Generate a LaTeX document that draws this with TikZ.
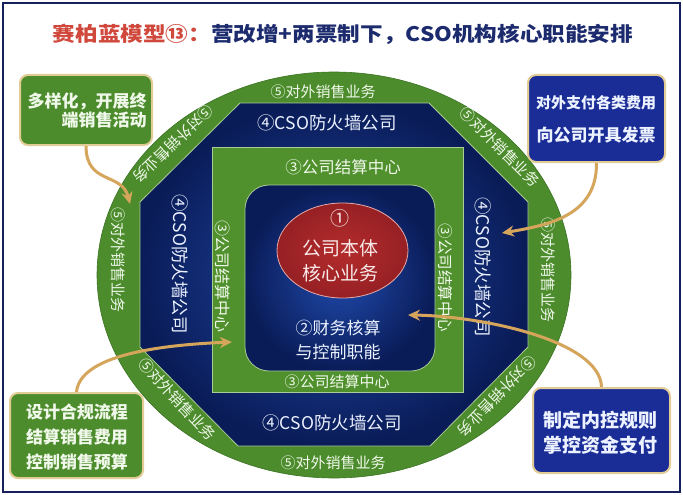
\documentclass[tikz,border=0pt]{standalone}
\usepackage{fontspec}
\setmainfont{Noto Sans CJK SC}
\usetikzlibrary{arrows.meta}
\definecolor{ringgreen}{RGB}{76,140,44}
\definecolor{sqgreen}{RGB}{80,145,46}
\definecolor{ringedge}{RGB}{60,115,36}
\definecolor{paleedge}{RGB}{170,205,150}
\definecolor{navyout}{RGB}{10,28,88}
\definecolor{navyin}{RGB}{32,74,172}
\definecolor{coreout}{RGB}{150,32,36}
\definecolor{corein}{RGB}{180,44,44}
\definecolor{coreedge}{RGB}{230,170,170}
\definecolor{tanline}{RGB}{214,165,92}
\definecolor{titlered}{RGB}{208,72,60}
\definecolor{titleblue}{RGB}{28,42,110}
\definecolor{boxgreen}{RGB}{76,140,44}
\definecolor{boxblue}{RGB}{26,44,150}
\definecolor{boxedge}{RGB}{226,204,150}
\definecolor{framecol}{RGB}{22,32,92}
\definecolor{greentext}{RGB}{240,248,234}
\definecolor{bluetext}{RGB}{236,242,255}
\definecolor{coretext}{RGB}{248,232,232}
\begin{document}
\begin{tikzpicture}[x=1pt,y=-1pt,
  ringtxt/.style={font=\fontsize{15}{15}\selectfont, text=greentext, inner sep=0pt},
  fwtxt/.style={font=\fontsize{17.5}{18}\selectfont, text=bluetext, inner sep=0pt},
  sqtxt/.style={font=\fontsize{16}{16}\selectfont, text=greentext, inner sep=0pt},
  coretxt/.style={font=\fontsize{19}{19}\selectfont, text=coretext, inner sep=0pt},
  calltxt/.style={inner sep=0pt, align=center, font=\bfseries},
  callbox/.style={rounded corners=8pt, draw=boxedge, line width=2pt, inner sep=0pt},
  linkarrow/.style={draw=tanline, line width=3pt, -{Stealth[length=12pt,width=11pt]}},
]
\useasboundingbox (0,0) rectangle (683,495);
\fill[white] (0,0) rectangle (683,495);
\draw[framecol, line width=2.5pt] (3,3) rectangle (680,492);

% title
\node[font=\fontsize{20}{22}\selectfont\bfseries, xscale=1.13, inner sep=0pt] (title) at (343,34)
  {\textcolor{titlered}{赛柏蓝模型⑬：}\textcolor{titleblue}{营改增+两票制下，CSO机构核心职能安排}};

% outer green ring
\draw[fill=ringgreen, draw=ringedge, line width=0.6pt] (334,275) ellipse [x radius=237pt, y radius=203pt];
% octagon
\shade[inner color=navyin, outer color=navyout]
  (240,103) -- (429,103) -- (528,202) -- (528,347) -- (430,446) -- (238,446) -- (140,347) -- (140,202) -- cycle;
\draw[paleedge, line width=0.8pt]
  (240,103) -- (429,103) -- (528,202) -- (528,347) -- (430,446) -- (238,446) -- (140,347) -- (140,202) -- cycle;
% green square
\draw[fill=sqgreen, draw=paleedge, line width=0.8pt] (212,147) rectangle (463,392);
% inner rounded square
\shade[rounded corners=24pt, inner color=navyin, outer color=navyout] (245,185) rectangle (435,371);
\draw[rounded corners=24pt, paleedge, line width=0.8pt] (245,185) rectangle (435,371);
% core ellipse
\shade[inner color=corein, outer color=coreout] (342.5,250.5) ellipse [x radius=65.5pt, y radius=47.5pt];
\draw[coreedge, line width=0.8pt] (342.5,250.5) ellipse [x radius=65.5pt, y radius=47.5pt];

% core texts
\node[coretxt] (c1) at (340,218) {①};
\node[coretxt] (c2) at (340,248) {公司本体};
\node[coretxt] (c3) at (340,273) {核心业务};
\node[font=\fontsize{17}{17}\selectfont, text=bluetext, inner sep=0pt] (f1) at (338,328) {②财务核算};
\node[font=\fontsize{17}{17}\selectfont, text=bluetext, inner sep=0pt] (f2) at (338,352) {与控制职能};

% settlement centre texts
\node[sqtxt, font=\fontsize{16.5}{17}\selectfont] (s1) at (343,167) {③公司结算中心};
\node[sqtxt, font=\fontsize{15}{15}\selectfont] (s2) at (337,382) {③公司结算中心};
\node[sqtxt, rotate=-90] (s3) at (223,276) {③公司结算中心};
\node[sqtxt, font=\fontsize{15.5}{16}\selectfont, rotate=-90] (s4) at (445,278) {③公司结算中心};

% firewall texts
\node[fwtxt] (w1) at (327,123) {④CSO防火墙公司};
\node[fwtxt] (w2) at (332,423) {④CSO防火墙公司};
\node[fwtxt, rotate=-90] (w3) at (180,264) {④CSO防火墙公司};
\node[fwtxt, rotate=-90] (w4) at (483,267) {④CSO防火墙公司};

% outer ring texts
\node[ringtxt] (r1) at (323,92) {⑤对外销售业务};
\node[ringtxt] (r2) at (333,463) {⑤对外销售业务};
\node[ringtxt, rotate=-90] (r3) at (118,260) {⑤对外销售业务};
\node[ringtxt, rotate=-90] (r4) at (548,270) {⑤对外销售业务};
\node[ringtxt, rotate=-136] (r5) at (173,144) {⑤对外销售业务};
\node[ringtxt, rotate=-45] (r6) at (500,147) {⑤对外销售业务};
\node[ringtxt, rotate=-47] (r7) at (177,399) {⑤对外销售业务};
\node[ringtxt, rotate=-134] (r8) at (497,396) {⑤对外销售业务};

% callout boxes
\node[callbox, fill=boxgreen, minimum width=132pt, minimum height=70pt] (b1) at (86,110) {};
\node[calltxt, align=right, text=greentext, font=\fontsize{17}{19}\selectfont\bfseries] (b1t) at (87,111) {多样化，开展终\\端销售活动};

\node[callbox, fill=boxblue, minimum width=137pt, minimum height=87pt] (b2) at (596.5,118.5) {};
\node[calltxt, text=bluetext, font=\fontsize{15}{15}\selectfont\bfseries] (b2a) at (596,103) {对外支付各类费用};
\node[calltxt, text=bluetext, font=\fontsize{17}{17}\selectfont\bfseries] (b2b) at (596,135) {向公司开具发票};

\node[callbox, fill=boxgreen, minimum width=133pt, minimum height=85pt] (b3) at (76.5,435.5) {};
\node[calltxt, text=greentext, font=\fontsize{17}{25}\selectfont\bfseries] (b3t) at (77,437) {设计合规流程\\结算销售费用\\控制销售预算};

\node[callbox, fill=boxblue, minimum width=137pt, minimum height=85pt] (b4) at (601.5,430.5) {};
\node[calltxt, text=bluetext, font=\fontsize{19}{25}\selectfont\bfseries] (b4t) at (600,432.5) {制定内控规则\\掌控资金支付};

% arrow targets
\coordinate (t1) at (130,204);
\coordinate (t2) at (502,233);
\coordinate (t3) at (232,342);
\coordinate (t4) at (408,315);

\draw[linkarrow] (b1.south) .. controls (86,185) and (122,172) .. (t1);
\draw[linkarrow] (b2.south) .. controls (597,215) and (550,225) .. (t2);
\draw[linkarrow] (b3.north) .. controls (80,355) and (160,345) .. (t3);
\draw[linkarrow] (b4.north) .. controls (600,340) and (480,316) .. (t4);
\end{tikzpicture}
\end{document}
